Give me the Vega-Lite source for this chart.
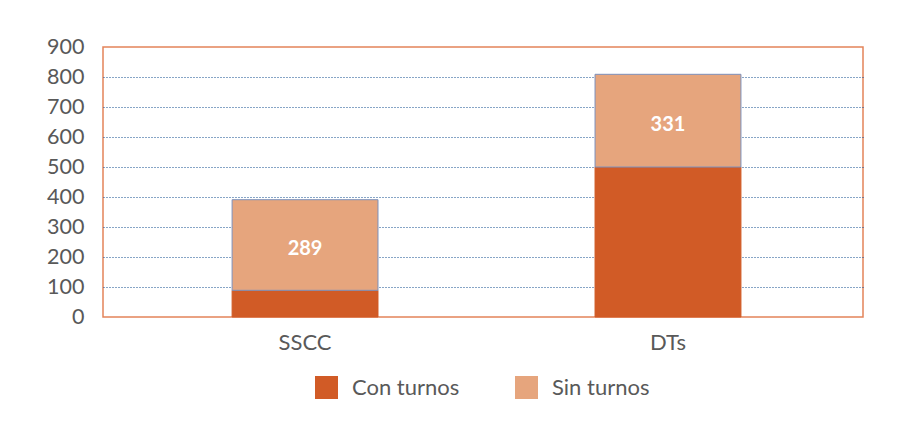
{
  "$schema": "https://vega.github.io/schema/vega-lite/v6.json",
  "width": 760,
  "height": 270,
  "autosize": {"type": "none"},
  "padding": {"left": 103, "top": 47, "right": 46, "bottom": 115},
  "background": "#ffffff",
  "data": {
    "values": [
      {"grupo": "SSCC", "tipo": "Con turnos", "valor": 89, "etiqueta": ""},
      {"grupo": "SSCC", "tipo": "Sin turnos", "valor": 302, "etiqueta": "289"},
      {"grupo": "DTs", "tipo": "Con turnos", "valor": 500, "etiqueta": ""},
      {"grupo": "DTs", "tipo": "Sin turnos", "valor": 309, "etiqueta": "331"}
    ]
  },
  "encoding": {
    "x": {
      "field": "grupo",
      "type": "nominal",
      "sort": ["SSCC", "DTs"],
      "scale": {"paddingInner": 0.598, "paddingOuter": 0.346, "align": 0.514},
      "axis": {
        "title": null,
        "labelAngle": 0,
        "ticks": false,
        "domain": false,
        "labelFont": "Lato",
        "labelFontSize": 22,
        "labelColor": "#595959",
        "labelPadding": 15
      }
    },
    "y": {
      "field": "valor",
      "type": "quantitative",
      "stack": "zero",
      "scale": {"domain": [0, 900], "nice": false},
      "axis": {
        "title": null,
        "values": [0, 100, 200, 300, 400, 500, 600, 700, 800, 900],
        "ticks": false,
        "domain": false,
        "labelFont": "Lato",
        "labelFontSize": 21.5,
        "labelColor": "#595959",
        "labelPadding": 19,
        "grid": true,
        "gridColor": {
          "condition": {"test": "datum.value == 0 || datum.value == 900", "value": "transparent"},
          "value": "#114C8E"
        },
        "gridDash": [1, 2],
        "gridWidth": 1.2
      }
    }
  },
  "layer": [
    {
      "mark": {"type": "bar"},
      "encoding": {
        "color": {
          "field": "tipo",
          "type": "nominal",
          "scale": {"domain": ["Con turnos", "Sin turnos"], "range": ["#D15B26", "#E6A57D"]},
          "legend": {
            "title": null,
            "orient": "none",
            "direction": "horizontal",
            "legendX": 212,
            "legendY": 329,
            "padding": 0,
            "columns": 2,
            "columnPadding": 55,
            "symbolType": "square",
            "symbolSize": 529,
            "symbolStrokeWidth": 0,
            "labelFont": "Lato",
            "labelFontSize": 22,
            "labelColor": "#595959",
            "labelOffset": 14
          }
        },
        "stroke": {
          "field": "tipo",
          "type": "nominal",
          "scale": {"domain": ["Con turnos", "Sin turnos"], "range": ["#D15B26", "#7C90BC"]},
          "legend": null
        },
        "strokeWidth": {"value": 1},
        "order": {"field": "tipo", "sort": "ascending"}
      }
    },
    {
      "mark": {"type": "text", "font": "Lato", "fontSize": 20, "fontWeight": "bold", "color": "#ffffff", "baseline": "middle", "dy": 4},
      "encoding": {
        "y": {"field": "valor", "type": "quantitative", "stack": "zero", "bandPosition": 0.5},
        "text": {"field": "etiqueta"},
        "detail": {"field": "tipo"},
        "order": {"field": "tipo", "sort": "ascending"}
      }
    }
  ],
  "config": {
    "view": {"stroke": "#E3845A", "strokeWidth": 1.5}
  }
}
